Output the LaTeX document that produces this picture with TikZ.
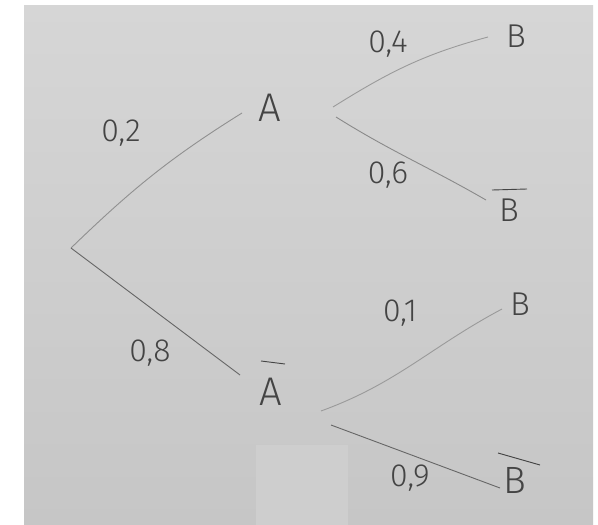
\documentclass[tikz,border=0pt]{standalone}
\usepackage{fontspec}
\setmainfont{Fira Sans Light}
\definecolor{paperTop}{HTML}{D6D6D6}
\definecolor{paperBot}{HTML}{C6C6C6}
\definecolor{paperPatch}{HTML}{CECECE}
\definecolor{ink}{HTML}{444444}
\definecolor{penDark}{HTML}{666666}
\definecolor{penLight}{HTML}{9A9A9A}
\begin{document}
\begin{tikzpicture}[x=1pt,y=-1pt,
  lab/.style={inner sep=0pt, text=ink},
  letA/.style={lab, font=\fontsize{40}{40}\selectfont},
  letB/.style={lab, font=\fontsize{33}{33}\selectfont},
  letBb/.style={lab, font=\fontsize{38}{38}\selectfont},
  num/.style={lab, font=\fontsize{32}{32}\selectfont},
  branch/.style={line width=0.9pt, draw=penLight},
  stem/.style={line width=0.9pt, draw=penDark},
  barline/.style={line width=0.9pt, draw=ink}]
\useasboundingbox (0,0) rectangle (598,525);
\fill[white] (0,0) rectangle (598,525);
\shade[top color=paperTop, bottom color=paperBot] (24,5) rectangle (593,525);
\fill[paperPatch] (256,445) rectangle (348,525);

\coordinate (O) at (71,248);
\node[letA] (A) at (270,108) {A};
\node[letA] (Ab) at (271,392) {A};
\node[letB] (B1) at (516,36) {B};
\node[letB] (Bb1) at (509,210) {B};
\node[letB] (B2) at (520,304) {B};
\node[letBb] (Bb2) at (515,480) {B};

\node[num] (p02) at (121,133) {0,2};
\node[num] (p08) at (150,353) {0,8};
\node[num] (p04) at (388,44) {0,4};
\node[num] (p06) at (388,175) {0,6};
\node[num] (p01) at (400,313) {0,1};
\node[num] (p09) at (410,478) {0,9};

% bars
\draw[barline] ([shift={(-10,-31)}]Ab.center) -- ([shift={(14,-28)}]Ab.center);
\draw[barline] ([shift={(-17,-20)}]Bb1.center) -- ([shift={(18,-21)}]Bb1.center);
\draw[barline] ([shift={(-17,-27)}]Bb2.center) -- ([shift={(25,-15)}]Bb2.center);

% connectors
\draw[stem, draw=penLight!80!penDark] (O) to[out=44,in=212] ([shift={(-28,5)}]A.center);
\draw[stem] (O) -- ([shift={(-31,-17)}]Ab.center);
\draw[branch] ([shift={(63,-1)}]A.center) to[out=32,in=195] ([shift={(-28,1)}]B1.center);
\draw[branch, draw=penLight!70!penDark] ([shift={(66,9)}]A.center) to[out=-32,in=150] ([shift={(-23,-10)}]Bb1.center);
\draw[branch] ([shift={(50,19)}]Ab.center) to[out=20,in=208] ([shift={(-18,5)}]B2.center);
\draw[stem] ([shift={(60,33)}]Ab.center) -- ([shift={(-15,8)}]Bb2.center);
\end{tikzpicture}
\end{document}
